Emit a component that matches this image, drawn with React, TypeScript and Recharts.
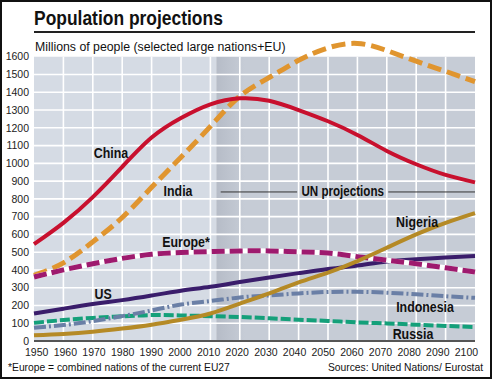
import React from 'react'
import { LineChart, Line, XAxis, YAxis, ReferenceArea, ReferenceLine, ReferenceDot } from 'recharts'

const years = [1950, 1960, 1970, 1980, 1990, 2000, 2010, 2020, 2030, 2040, 2050, 2060, 2070, 2080, 2090, 2100]
const china = [545, 665, 810, 980, 1145, 1255, 1332, 1366, 1352, 1300, 1237, 1160, 1070, 995, 935, 893]
const india = [370, 440, 558, 695, 865, 1035, 1208, 1378, 1483, 1580, 1650, 1675, 1635, 1575, 1518, 1460]
const europe = [360, 400, 435, 465, 488, 498, 503, 507, 507, 502, 495, 475, 455, 435, 412, 388]
const us = [155, 182, 208, 230, 256, 283, 305, 332, 358, 382, 405, 425, 448, 460, 470, 478]
const indonesia = [75, 90, 112, 140, 172, 205, 225, 245, 257, 268, 276, 277, 272, 263, 252, 243]
const russia = [102, 118, 130, 139, 146, 144, 140, 135, 128, 120, 113, 105, 99, 92, 85, 79]
const nigeria = [33, 40, 52, 70, 92, 120, 155, 210, 268, 330, 385, 450, 525, 600, 665, 720]

const xTicks = [1950, 1960, 1970, 1980, 1990, 2000, 2010, 2020, 2030, 2040, 2050, 2060, 2070, 2080, 2090, 2100]
const yTicks = [0, 100, 200, 300, 400, 500, 600, 700, 800, 900, 1000, 1100, 1200, 1300, 1400, 1500, 1600]
const gridYears = [1960, 1970, 1980, 1990, 2000, 2010, 2020, 2030, 2040, 2050, 2060, 2070, 2080, 2090]
const gridValues = [100, 200, 300, 400, 500, 600, 700, 800, 900, 1000, 1100, 1200, 1300, 1400, 1500]

const seriesLabels = [
  { name: 'China', year: 1976.2, value: 1059 },
  { name: 'India', year: 1999, value: 845 },
  { name: 'Europe*', year: 2001.7, value: 563 },
  { name: 'US', year: 1973.5, value: 270 },
  { name: 'Nigeria', year: 2080.3, value: 676 },
  { name: 'Indonesia', year: 2083, value: 197 },
  { name: 'Russia', year: 2078.9, value: 45 },
]

const data = years.map((year, i) => ({
  year,
  china: china[i],
  india: india[i],
  europe: europe[i],
  us: us[i],
  indonesia: indonesia[i],
  russia: russia[i],
  nigeria: nigeria[i],
}))

const FONT = '"Liberation Sans", Arial, sans-serif'

const XTick = ({ x, y, payload }: any) => (
  <text x={36.7 + (x - 34) * 0.9745} y={y + 15} textAnchor="middle" fontSize={10.5} fontFamily={FONT} fill="#222">
    {payload.value}
  </text>
)

// bold condensed label, squeezed horizontally since no narrow font is installed
const NarrowText = ({ cx, cy, text, size }: any) => (
  <text
    transform={`translate(${cx},${cy}) scale(0.8,1)`}
    x={0}
    y={0}
    dy="0.36em"
    textAnchor="middle"
    fontSize={size}
    fontWeight="bold"
    fontFamily={FONT}
    fill="#111"
  >
    {text}
  </text>
)

const seriesLabel = (name: string) => (p: any) => <NarrowText cx={p.cx} cy={p.cy} text={name} size={15.5} />

export default function App() {
  return (
    <div style={{ position: 'absolute', left: 0, top: 0, width: 492, height: 379, background: '#fff', fontFamily: FONT, color: '#111' }}>
      <div
        style={{
          position: 'absolute',
          left: 34,
          top: 7,
          fontWeight: 'bold',
          fontSize: 21,
          lineHeight: 1,
          whiteSpace: 'nowrap',
          transform: 'scaleX(0.83)',
          transformOrigin: 'left top',
        }}
      >
        Population projections
      </div>
      <div style={{ position: 'absolute', left: 34, top: 31, width: 441, height: 2, background: '#222' }} />
      <div style={{ position: 'absolute', left: 35, top: 41, fontSize: 12.3, lineHeight: 1, whiteSpace: 'nowrap' }}>
        Millions of people (selected large nations+EU)
      </div>

      <div style={{ position: 'absolute', left: 0, top: 0 }}>
        <LineChart width={492} height={379} data={data} margin={{ top: 39, right: 17, bottom: 18, left: 0 }}>
          <XAxis
            dataKey="year"
            type="number"
            domain={[1950, 2100]}
            ticks={xTicks}
            interval={0}
            height={20}
            tickLine={false}
            tickSize={0}
            tickMargin={0}
            axisLine={{ stroke: '#555', strokeWidth: 2 }}
            tick={<XTick />}
          />
          <YAxis
            type="number"
            domain={[0, 1700]}
            ticks={yTicks}
            interval={0}
            width={34}
            axisLine={false}
            tickLine={false}
            tickSize={0}
            tickMargin={5}
            tick={{ fontSize: 10.5, fontFamily: FONT, fill: '#222' }}
          />
          <defs>
            <linearGradient id="projFill" x1="0" y1="0" x2="1" y2="0">
              <stop offset="0" stopColor="#b6bcc7" />
              <stop offset="0.11" stopColor="#c6ccd6" />
              <stop offset="1" stopColor="#c6ccd6" />
            </linearGradient>
          </defs>
          <ReferenceArea x1={1950} x2={2012} y1={0} y2={1600} fill="#d5dbe4" fillOpacity={1} stroke="none" zIndex={-200} />
          <ReferenceArea x1={2012} x2={2100} y1={0} y2={1600} fill="url(#projFill)" fillOpacity={1} stroke="none" zIndex={-200} />
          {gridYears.map(yr => (
            <ReferenceLine key={'gx' + yr} segment={[{ x: yr, y: 0 }, { x: yr, y: 1600 }]} stroke="#fff" strokeWidth={1.6} zIndex={-150} />
          ))}
          {gridValues.map(v => (
            <ReferenceLine key={'gy' + v} y={v} stroke="#fff" strokeWidth={1.6} zIndex={-150} />
          ))}

          <ReferenceLine segment={[{ x: 2013.5, y: 839 }, { x: 2039.5, y: 839 }]} stroke="#333" strokeWidth={1} />
          <ReferenceLine segment={[{ x: 2070.5, y: 839 }, { x: 2100, y: 839 }]} stroke="#333" strokeWidth={1} />
          <ReferenceDot x={2055} y={845} r={0} shape={(p: any) => <NarrowText cx={p.cx} cy={p.cy} text="UN projections" size={14.5} />} />

          <Line type="natural" dataKey="russia" stroke="#14a07a" strokeWidth={4} strokeDasharray="10 3" dot={false} isAnimationActive={false} />
          <Line type="natural" dataKey="indonesia" stroke="#6a7fa6" strokeWidth={4} strokeDasharray="12 3 2 3" dot={false} isAnimationActive={false} />
          <Line type="natural" dataKey="us" stroke="#3a1d6b" strokeWidth={4} dot={false} isAnimationActive={false} />
          <Line type="natural" dataKey="india" stroke="#e0952f" strokeWidth={5} strokeDasharray="14 6" dot={false} isAnimationActive={false} />
          <Line type="natural" dataKey="china" stroke="#c8102e" strokeWidth={4} dot={false} isAnimationActive={false} />
          <Line type="natural" dataKey="europe" stroke="#ffffff" strokeWidth={5} dot={false} isAnimationActive={false} />
          <Line type="natural" dataKey="europe" stroke="#9e1a6e" strokeWidth={5} strokeDasharray="13 5" dot={false} isAnimationActive={false} />
          <Line type="natural" dataKey="nigeria" stroke="#b58a26" strokeWidth={4} dot={false} isAnimationActive={false} />

          {seriesLabels.map(l => (
            <ReferenceDot key={l.name} x={l.year} y={l.value} r={0} shape={seriesLabel(l.name)} />
          ))}
        </LineChart>
      </div>

      <div style={{ position: 'absolute', left: 8, top: 363, fontSize: 10.3, lineHeight: 1, whiteSpace: 'nowrap' }}>
        *Europe = combined nations of the current EU27
      </div>
      <div style={{ position: 'absolute', right: 9, top: 363, fontSize: 10.3, lineHeight: 1, whiteSpace: 'nowrap' }}>
        Sources: United Nations/ Eurostat
      </div>
      <div style={{ position: 'absolute', left: 0, top: 0, width: 492, height: 379, border: '2px solid #111', boxSizing: 'border-box', pointerEvents: 'none' }} />
    </div>
  )
}
